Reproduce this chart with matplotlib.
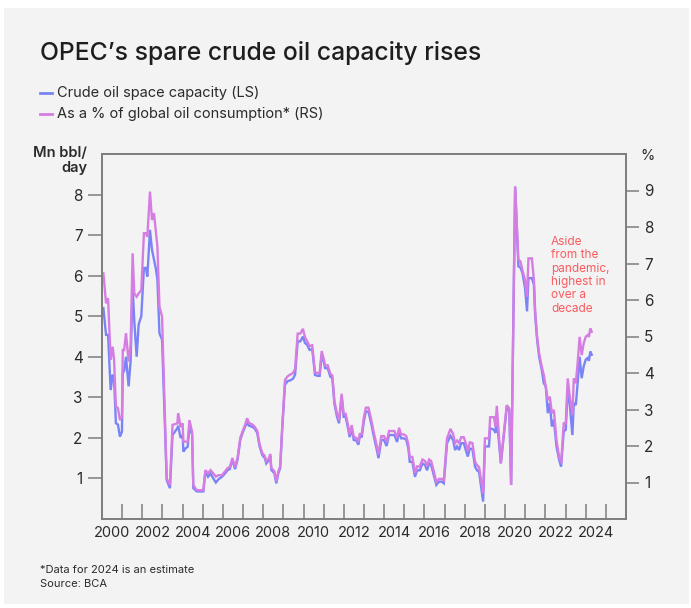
import matplotlib
matplotlib.use("Agg")
import matplotlib.pyplot as plt
from matplotlib.lines import Line2D
from matplotlib.patches import Rectangle

# ---------------- data ----------------
dates = [
    2000.07, 2000.20, 2000.30, 2000.43, 2000.53, 2000.60, 2000.69, 2000.79, 2000.89, 2000.99,
    2001.03, 2001.10, 2001.19, 2001.32, 2001.42, 2001.52, 2001.60, 2001.72, 2001.82, 2001.95,
    2002.08, 2002.18, 2002.25, 2002.38, 2002.48, 2002.58, 2002.68, 2002.75, 2002.85, 2002.98,
    2003.21, 2003.37, 2003.50, 2003.74, 2003.78, 2003.90, 2004.00, 2004.04, 2004.14, 2004.25,
    2004.34, 2004.47, 2004.53, 2004.70, 2004.86, 2005.03, 2005.13, 2005.26, 2005.39, 2005.52,
    2005.65, 2005.78, 2005.95, 2006.10, 2006.24, 2006.34, 2006.47, 2006.60, 2006.73, 2006.86,
    2006.96, 2007.10, 2007.20, 2007.30, 2007.43, 2007.56, 2007.70, 2007.82, 2007.95, 2008.08,
    2008.15, 2008.28, 2008.35, 2008.40, 2008.55, 2008.65, 2008.75, 2008.84, 2008.95, 2009.08,
    2009.21, 2009.35, 2009.48, 2009.58, 2009.71, 2009.84, 2009.97, 2010.07, 2010.17, 2010.30,
    2010.43, 2010.57, 2010.70, 2010.80, 2010.90, 2011.00, 2011.07, 2011.20, 2011.33, 2011.43,
    2011.53, 2011.66, 2011.76, 2011.89, 2011.99, 2012.09, 2012.19, 2012.29, 2012.39, 2012.49,
    2012.63, 2012.72, 2012.79, 2012.89, 2012.99, 2013.09, 2013.22, 2013.36, 2013.49, 2013.62,
    2013.72, 2013.86, 2013.99, 2014.12, 2014.24, 2014.38, 2014.51, 2014.64, 2014.74, 2014.84,
    2014.97, 2015.10, 2015.20, 2015.27, 2015.40, 2015.53, 2015.63, 2015.77, 2015.90, 2016.03,
    2016.13, 2016.23, 2016.33, 2016.46, 2016.59, 2016.72, 2016.86, 2016.96, 2017.12, 2017.29,
    2017.42, 2017.52, 2017.62, 2017.72, 2017.82, 2017.95, 2018.05, 2018.15, 2018.25, 2018.38,
    2018.51, 2018.61, 2018.71, 2018.91, 2019.00, 2019.20, 2019.26, 2019.45, 2019.52, 2019.59,
    2019.79, 2020.08, 2020.21, 2020.30, 2020.50, 2020.66, 2020.76, 2020.86, 2020.99, 2021.09,
    2021.16, 2021.33, 2021.43, 2021.49, 2021.59, 2021.69, 2021.82, 2021.92, 2022.02, 2022.12,
    2022.22, 2022.32, 2022.42, 2022.55, 2022.68, 2022.78, 2022.91, 2023.01, 2023.11, 2023.21,
    2023.34, 2023.41, 2023.51, 2023.60, 2023.70, 2023.80, 2023.90, 2024.00, 2024.10, 2024.16,
    2024.23, 2024.30,
]

# Crude oil spare capacity, Mn bbl/day (left scale)
spare_mbd = [
    5.20, 4.54, 4.54, 3.18, 3.56, 3.43, 2.36, 2.33, 2.03, 2.15,
    3.60, 3.65, 4.00, 3.27, 3.90, 5.73, 4.90, 4.00, 4.80, 5.00,
    6.19, 6.19, 5.98, 7.13, 6.64, 6.40, 6.15, 5.90, 4.58, 4.42,
    0.96, 0.76, 2.07, 2.24, 2.30, 2.00, 2.07, 1.66, 1.74, 1.78,
    2.24, 2.10, 0.76, 0.68, 0.68, 0.68, 1.17, 1.04, 1.12, 1.00,
    0.90, 0.98, 1.04, 1.12, 1.21, 1.23, 1.46, 1.23, 1.47, 1.95,
    2.10, 2.28, 2.36, 2.30, 2.28, 2.24, 2.13, 1.79, 1.58, 1.50,
    1.37, 1.45, 1.55, 1.21, 1.13, 0.88, 1.13, 1.25, 2.28, 3.31,
    3.40, 3.42, 3.46, 3.56, 4.38, 4.38, 4.50, 4.34, 4.30, 4.17,
    4.19, 3.55, 3.53, 3.53, 4.05, 3.88, 3.72, 3.72, 3.51, 3.47,
    2.85, 2.52, 2.36, 3.02, 2.52, 2.52, 2.28, 2.02, 2.24, 1.95,
    1.93, 1.83, 2.03, 2.03, 2.40, 2.65, 2.65, 2.35, 2.03, 1.74,
    1.50, 1.95, 1.95, 1.80, 2.07, 2.07, 2.07, 1.90, 2.15, 1.99,
    1.99, 1.95, 1.74, 1.41, 1.41, 1.04, 1.20, 1.20, 1.37, 1.33,
    1.20, 1.37, 1.33, 1.09, 0.84, 0.92, 0.92, 0.88, 1.87, 2.05,
    1.95, 1.70, 1.79, 1.70, 1.87, 1.87, 1.70, 1.54, 1.74, 1.72,
    1.29, 1.20, 1.16, 0.43, 1.79, 1.79, 2.24, 2.20, 2.12, 2.49,
    1.37, 2.73, 2.68, 0.84, 8.20, 6.23, 6.20, 6.07, 5.70, 5.12,
    5.94, 5.94, 5.78, 5.04, 4.42, 4.00, 3.68, 3.35, 3.27, 2.61,
    2.86, 2.28, 2.45, 1.79, 1.46, 1.29, 2.16, 2.20, 3.23, 2.81,
    2.07, 2.86, 2.81, 3.35, 4.00, 3.47, 3.76, 3.93, 3.97, 3.90,
    4.13, 4.05,
]

# As a % of global oil consumption (right scale)
spare_pct = [
    6.73, 5.91, 6.05, 4.36, 4.72, 4.36, 3.08, 3.04, 2.71, 2.80,
    4.63, 4.63, 5.09, 4.31, 4.77, 7.28, 6.18, 6.09, 6.18, 6.27,
    7.83, 7.83, 7.73, 8.97, 8.19, 8.38, 7.83, 7.46, 5.82, 5.54,
    1.11, 0.93, 2.58, 2.62, 2.90, 2.52, 2.62, 2.12, 2.12, 2.12,
    2.71, 2.38, 0.93, 0.79, 0.79, 0.79, 1.34, 1.25, 1.34, 1.25,
    1.16, 1.20, 1.20, 1.30, 1.40, 1.42, 1.67, 1.42, 1.69, 2.22,
    2.38, 2.58, 2.76, 2.63, 2.60, 2.54, 2.42, 2.04, 1.81, 1.72,
    1.58, 1.66, 1.78, 1.40, 1.31, 1.03, 1.31, 1.44, 2.61, 3.81,
    3.91, 3.96, 4.00, 4.11, 5.08, 5.08, 5.21, 4.98, 4.88, 4.74,
    4.76, 4.02, 4.00, 4.00, 4.60, 4.39, 4.21, 4.21, 3.98, 3.93,
    3.24, 2.88, 2.70, 3.43, 2.88, 2.88, 2.61, 2.32, 2.57, 2.25,
    2.22, 2.11, 2.33, 2.33, 2.77, 3.05, 3.05, 2.72, 2.36, 2.04,
    1.77, 2.27, 2.27, 2.11, 2.41, 2.41, 2.41, 2.22, 2.50, 2.32,
    2.32, 2.27, 2.04, 1.70, 1.70, 1.26, 1.44, 1.44, 1.63, 1.59,
    1.44, 1.63, 1.59, 1.32, 1.01, 1.10, 1.10, 1.06, 2.21, 2.47,
    2.33, 2.08, 2.15, 2.08, 2.24, 2.24, 2.08, 1.87, 2.10, 2.08,
    1.57, 1.47, 1.42, 0.70, 2.21, 2.21, 2.79, 2.79, 2.53, 3.10,
    1.53, 3.12, 3.03, 0.93, 9.10, 7.10, 7.06, 6.82, 6.55, 6.09,
    7.14, 7.14, 6.55, 5.73, 4.99, 4.54, 4.17, 3.95, 3.62, 3.26,
    3.35, 2.90, 2.99, 2.16, 1.71, 1.53, 2.62, 2.62, 3.85, 3.35,
    2.85, 3.85, 3.72, 4.27, 4.99, 4.49, 4.81, 4.99, 5.04, 4.99,
    5.22, 5.13,
]

year_ticks = list(range(2001, 2026))
year_labels = list(range(2000, 2025, 2))
left_ticks = [1, 2, 3, 4, 5, 6, 7, 8]
right_ticks = [1, 2, 3, 4, 5, 6, 7, 8, 9]

# ---------------- style ----------------
FONT = ["Inter", "DejaVu Sans"]
plt.rcParams["font.family"] = FONT
BLUE = "#7b84f6"
PURPLE = "#d57de2"
TEXT = "#2b2b2b"
SPINE = "#7d7d7d"
BG = "#f3f3f3"
ANNOT = "#fb5a5f"

W, H = 691, 608
fig = plt.figure(figsize=(W / 100, H / 100), dpi=100)
fig.patch.set_facecolor("white")
fig.patches.append(Rectangle((4 / W, 4 / H), 685 / W, 596 / H, transform=fig.transFigure,
                             facecolor=BG, edgecolor="none", zorder=-10))

ax = fig.add_axes([102 / W, 1 - 519 / H, 524 / W, 365 / H])
ax.set_facecolor(BG)
ax2 = ax.twinx()

ax.plot(dates, spare_mbd, color=BLUE, lw=1.7, solid_joinstyle="miter")
ax2.plot(dates, spare_pct, color=PURPLE, lw=1.7, solid_joinstyle="miter")

ax.set_xlim(2000, 2026)
ax.set_ylim(0, 9)
ax2.set_ylim(0, 10)

ax.set_xticks(year_ticks)
ax.set_xticklabels([])
ax.set_xticks([y + 0.5 for y in year_labels], minor=True)
ax.set_xticklabels([str(y) for y in year_labels], minor=True)
ax.tick_params(axis="x", which="major", direction="in", length=11, width=1.1, color=SPINE)
ax.tick_params(axis="x", which="minor", length=0, pad=5, labelsize=10.5, labelcolor=TEXT)

ax.set_yticks(left_ticks)
ax.set_yticklabels([str(t) for t in left_ticks])
ax.tick_params(axis="y", direction="out", length=10, width=1.1, color=SPINE,
               labelsize=11, labelcolor=TEXT, pad=4)
ax2.set_yticks(right_ticks)
ax2.set_yticklabels([str(t) for t in right_ticks])
ax2.tick_params(axis="y", direction="out", length=9, width=1.1, color=SPINE,
                labelsize=11, labelcolor=TEXT, pad=4)

for a in (ax, ax2):
    for s in a.spines.values():
        s.set_color(SPINE)
        s.set_linewidth(1.2)

# axis unit labels
fig.text(87 / W, 1 - 153 / H, "Mn bbl/", ha="right", va="center", fontsize=10.5,
         color=TEXT, weight="semibold")
fig.text(87 / W, 1 - 168 / H, "day", ha="right", va="center", fontsize=10.5,
         color=TEXT, weight="semibold")
fig.text(640 / W, 1 - 156 / H, "%", ha="left", va="center", fontsize=10.5, color=TEXT)

# title
fig.text(40 / W, 1 - 53 / H, "OPEC\u2019s spare crude oil capacity rises", ha="left", va="center",
         fontsize=17.8, color="#1e1e1e", weight="medium")

# legend
for yy, col, lab in [(93, BLUE, "Crude oil space capacity (LS)"),
                     (114, PURPLE, "As a % of global oil consumption* (RS)")]:
    fig.lines.append(Line2D([40 / W, 52 / W], [1 - yy / H, 1 - yy / H], transform=fig.transFigure,
                            color=col, lw=2))
    fig.text(57 / W, 1 - yy / H, lab, ha="left", va="center", fontsize=10.5, color=TEXT)

# annotation
fig.text(551 / W, 1 - 236 / H, "Aside\nfrom the\npandemic,\nhighest in\nover a\ndecade",
         ha="left", va="top", fontsize=8.5, color=ANNOT, linespacing=1.15)

# footnotes
fig.text(40 / W, 1 - 570 / H, "*Data for 2024 is an estimate", ha="left", va="center",
         fontsize=8, color=TEXT)
fig.text(40 / W, 1 - 584 / H, "Source: BCA", ha="left", va="center", fontsize=8, color=TEXT)

fig.savefig("out.png", dpi=100, facecolor=fig.get_facecolor())
